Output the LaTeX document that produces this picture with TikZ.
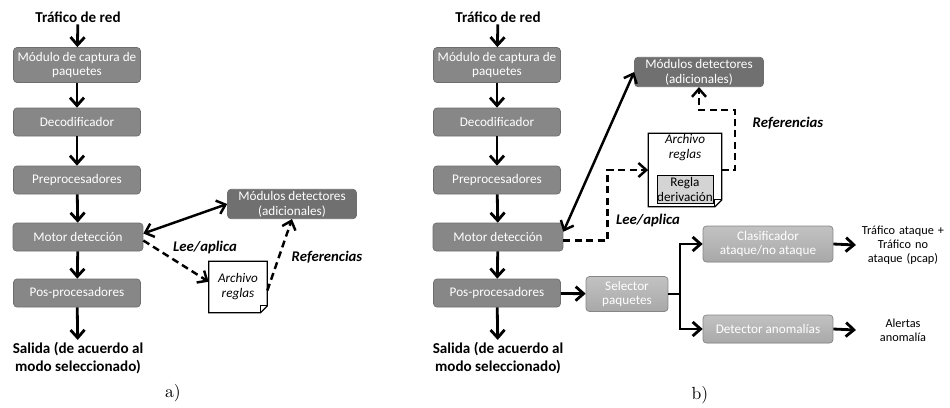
\documentclass[tikz,border=0pt]{standalone}
\usepackage{fontspec}
\newfontfamily\boxfont{Carlito}
\usetikzlibrary{arrows.meta,calc}

\definecolor{boxgray}{RGB}{135,135,135}
\definecolor{boxedge}{RGB}{110,110,110}
\definecolor{darkgray}{RGB}{112,112,112}
\definecolor{lightgray}{RGB}{168,168,168}
\definecolor{rulegray}{RGB}{212,212,212}

\tikzset{
  module/.style={rectangle,rounded corners=2pt,draw=boxedge,fill=boxgray,text=white,
    font=\boxfont\fontsize{7.5}{8.5}\selectfont,align=center,
    minimum width=2.54cm,minimum height=0.56cm,inner sep=1pt},
  extra/.style={module,fill=darkgray,minimum width=2.58cm,minimum height=0.54cm},
  newmod/.style={module,top color=lightgray!70,bottom color=lightgray,draw=lightgray!80!black},
  title/.style={font=\boxfont\bfseries\fontsize{8.6}{10.5}\selectfont,align=center,inner sep=1pt},
  outtxt/.style={font=\boxfont\fontsize{7}{8}\selectfont,align=center,text width=1.8cm,inner sep=1pt},
  lbl/.style={font=\boxfont\bfseries\itshape\fontsize{8.4}{9.5}\selectfont},
  rules/.style={rectangle,fill=white,minimum width=1.16cm,minimum height=1.02cm,inner sep=0pt},
  flow/.style={line width=1.6pt,-{Straight Barb[length=4.5pt,width=8pt]}},
  both/.style={line width=1.4pt,{Straight Barb[length=4.5pt,width=8pt]}-{Straight Barb[length=4.5pt,width=8pt]}},
  refs/.style={line width=1.4pt,dash pattern=on 4pt off 2.5pt,-{Straight Barb[length=4.5pt,width=8pt]}}
}

% folded corner of a rules file
\newcommand{\ruleoutline}[1]{%
  \draw[line width=0.7pt] (#1.north west) -- (#1.north east) -- ($(#1.south east)+(0,-7)$)
    -- ($(#1.south east)+(-7,0)$) -- (#1.south west) -- cycle;
  \draw[line width=0.7pt] ($(#1.south east)+(0,-7)$) -- ($(#1.south east)+(-7,-7)$) -- ($(#1.south east)+(-7,0)$);}

\begin{document}
\begin{tikzpicture}[x=0.02cm,y=-0.02cm]
\useasboundingbox (0,0) rectangle (950,407);

% a) Snort
\node[title] (ta) at (78,17) {Tráfico de red};
\node[module,minimum height=0.7cm] (ca) at (77,65) {Módulo de captura de\\paquetes};
\node[module] (da) at (77,122) {Decodificador};
\node[module] (pa) at (77,180) {Preprocesadores};
\node[module,minimum width=2.6cm] (ma) at (78,237) {Motor detección};
\node[module] (oa) at (77,293) {Pos-procesadores};
\node[title] (sa) at (78,358) {Salida (de acuerdo al\\modo seleccionado)};
\draw[flow] (ta) -- (ca);
\draw[flow] (ca) -- (da);
\draw[flow] (da) -- (pa);
\draw[flow] (pa) -- (ma);
\draw[flow] (ma) -- (oa);
\draw[flow] (oa) -- (sa);

\node[extra] (mda) at (292,204) {Módulos detectores\\(adicionales)};
\node[rules] (ara) at (238,287) {};
\ruleoutline{ara}
\node[font=\boxfont\itshape\fontsize{7.5}{8.5}\selectfont,align=center] at (ara) {Archivo\\reglas};
\draw[both] ([yshift=2pt]ma.east) -- (mda.west);
\draw[refs] ([yshift=-2pt]ma.east) -- ([yshift=3pt]ara.west);
\draw[refs] ([yshift=-2pt]ara.east) -- (mda.south);
\node[lbl] at (205,247) {Lee/aplica};
\node[lbl] at (327,257) {Referencias};
\node at (173,393) {a)};

% b) propuesta
\node[title] (tb) at (498,17) {Tráfico de red};
\node[module,minimum height=0.7cm] (cb) at (497,65) {Módulo de captura de\\paquetes};
\node[module] (db) at (497,122) {Decodificador};
\node[module] (pb) at (497,180) {Preprocesadores};
\node[module,minimum width=2.6cm] (mb) at (498,237) {Motor detección};
\node[module] (ob) at (497,293) {Pos-procesadores};
\node[title] (sb) at (498,358) {Salida (de acuerdo al\\modo seleccionado)};
\draw[flow] (tb) -- (cb);
\draw[flow] (cb) -- (db);
\draw[flow] (db) -- (pb);
\draw[flow] (pb) -- (mb);
\draw[flow] (mb) -- (ob);
\draw[flow] (ob) -- (sb);

\node[extra] (mdb) at (699,72) {Módulos detectores\\(adicionales)};
\node[rules,minimum width=1.46cm,minimum height=1.46cm] (arb) at (685,170) {};
\ruleoutline{arb}
\node[font=\boxfont\itshape\fontsize{7.5}{8.5}\selectfont,align=center] at (685,148) {Archivo\\reglas};
\node[rectangle,draw,fill=rulegray,minimum width=1.12cm,minimum height=0.56cm,inner sep=0pt,
  font=\boxfont\fontsize{7.5}{8.5}\selectfont,align=center] (rdb) at (685,189) {Regla\\derivación};
\draw[both] ([yshift=3pt]mb.east) -- (mdb.west);
\draw[refs] ([yshift=-2pt]mb.east) -- ++(44,0) |- (arb.west);
\coordinate (rf) at (735,110);
\draw[refs] (arb.east) -| (rf) -| (mdb.south);
\node[lbl] at (648,220) {Lee/aplica};
\node[lbl] at (788,123) {Referencias};

\node[newmod,minimum width=1.64cm,minimum height=0.7cm] (selb) at (627,294) {Selector\\paquetes};
\node[newmod,minimum width=2.6cm,minimum height=0.72cm] (clb) at (768,244) {Clasificador\\ataque/no ataque};
\node[newmod,minimum width=2.6cm] (deb) at (768,329) {Detector anomalías};
\node[outtxt] (tfb) at (903,245) {Tráfico ataque +\\Tráfico no\\ataque (pcap)};
\node[outtxt] (alb) at (903,330) {Alertas\\anomalía};
\coordinate (br) at (680,294);
\draw[flow] (ob) -- (selb);
\draw[line width=1.6pt] (selb.east) -- (br);
\draw[flow] (br) |- (clb.west);
\draw[flow] (br) |- (deb.west);
\draw[flow] (clb.east) -- (tfb.west);
\draw[flow] (deb.east) -- (alb.west);
\node at (700,395) {b)};
\end{tikzpicture}
\end{document}
